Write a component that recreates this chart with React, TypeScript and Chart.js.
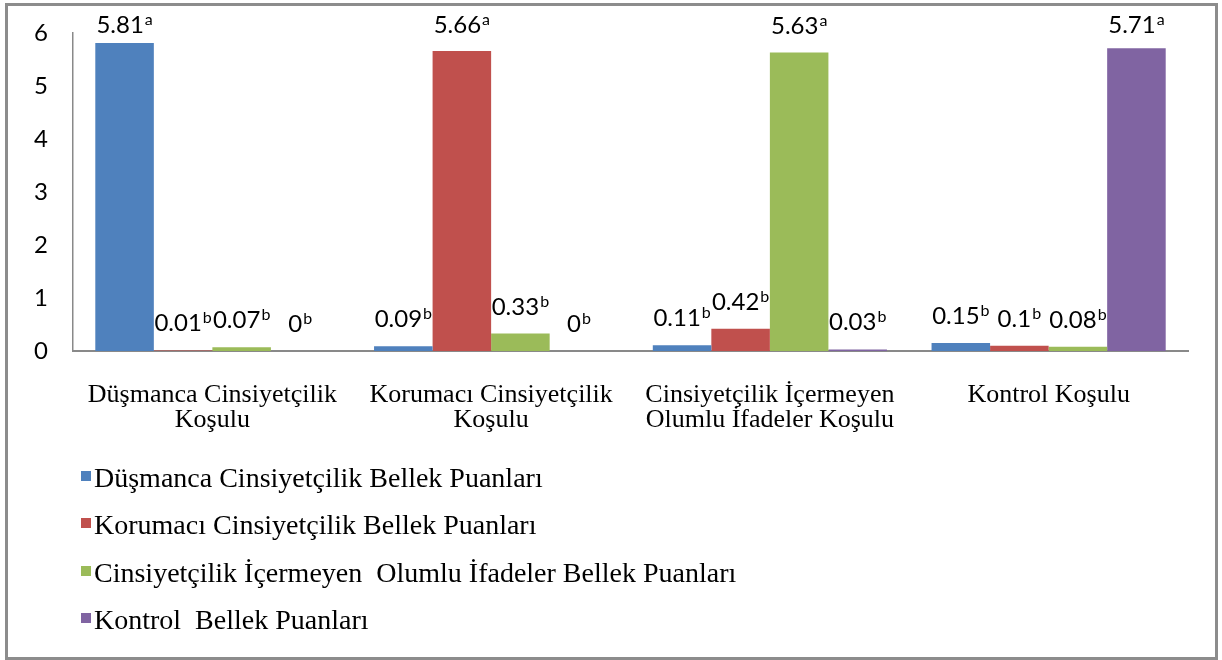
import React, { useEffect, useRef } from 'react';
import { Chart, registerables } from 'chart.js';

Chart.register(...registerables);

const categories = [
  ['Düşmanca Cinsiyetçilik', 'Koşulu'],
  ['Korumacı Cinsiyetçilik', 'Koşulu'],
  ['Cinsiyetçilik İçermeyen', 'Olumlu İfadeler Koşulu'],
  'Kontrol Koşulu',
];

const seriesNames = [
  'Düşmanca Cinsiyetçilik Bellek Puanları',
  'Korumacı Cinsiyetçilik Bellek Puanları',
  'Cinsiyetçilik İçermeyen  Olumlu İfadeler Bellek Puanları',
  'Kontrol  Bellek Puanları',
];

const hostileScores = [5.81, 0.09, 0.11, 0.15];
const benevolentScores = [0.01, 5.66, 0.42, 0.1];
const positiveScores = [0.07, 0.33, 5.63, 0.08];
const controlScores = [0, 0, 0.03, 5.71];

const hostileLetters = ['a', 'b', 'b', 'b'];
const benevolentLetters = ['b', 'a', 'b', 'b'];
const positiveLetters = ['b', 'b', 'a', 'b'];
const controlLetters = ['b', 'b', 'b', 'a'];

const yMin = 0;
const yMax = 6;
const yStep = 1;

const seriesColors = ['#4F81BD', '#C0504D', '#9BBB59', '#8064A2'];

const allSeries = [hostileScores, benevolentScores, positiveScores, controlScores];
const allLetters = [hostileLetters, benevolentLetters, positiveLetters, controlLetters];

const SANS = 'Lato, "Open Sans", sans-serif';
const SERIF = '"Liberation Serif", "Times New Roman", serif';

const labelPlugin = {
  id: 'supLabels',
  afterDatasetsDraw(chart: any) {
    const ctx = chart.ctx;
    const top = chart.chartArea.top;
    ctx.save();
    ctx.fillStyle = '#000';
    ctx.textBaseline = 'alphabetic';
    ctx.textAlign = 'left';
    chart.data.datasets.forEach((ds: any, i: number) => {
      const meta = chart.getDatasetMeta(i);
      meta.data.forEach((el: any, j: number) => {
        const main = String(ds.data[j]);
        const sup = allLetters[i][j];
        ctx.font = '24px ' + SANS;
        const w1 = ctx.measureText(main).width;
        ctx.font = '16px ' + SANS;
        const w2 = ctx.measureText(sup).width;
        const total = w1 + 1 + w2;
        const x0 = el.x - total / 2;
        const y = Math.max(el.y - 19, top);
        ctx.font = '24px ' + SANS;
        ctx.fillText(main, x0, y);
        ctx.font = '16px ' + SANS;
        ctx.fillText(sup, x0 + w1 + 1, y - 8);
      });
    });
    ctx.restore();
  },
};

export default function App() {
  const canvasRef = useRef<HTMLCanvasElement | null>(null);

  useEffect(() => {
    const canvas = canvasRef.current;
    if (!canvas) return;
    const chart = new Chart(canvas, {
      type: 'bar',
      data: {
        labels: categories as any,
        datasets: allSeries.map((s, i) => ({
          label: seriesNames[i],
          data: s,
          backgroundColor: seriesColors[i],
          borderWidth: 0,
          categoryPercentage: 0.84,
          barPercentage: 1,
        })),
      },
      options: {
        responsive: false,
        animation: false,
        layout: { padding: { top: 33, right: 34, bottom: 0, left: 0 } },
        plugins: { legend: { display: false }, tooltip: { enabled: false } },
        scales: {
          x: {
            grid: { display: false },
            border: { color: '#898989', width: 2 },
            ticks: {
              color: '#000',
              font: { family: SERIF, size: 26, lineHeight: 0.96 },
              padding: 24,
              maxRotation: 0,
              autoSkip: false,
            },
            afterFit: (s: any) => {
              s.height = 309;
            },
          },
          y: {
            min: yMin,
            max: yMax,
            ticks: {
              stepSize: yStep,
              color: '#000',
              font: { family: SANS, size: 24, lineHeight: 0.1 },
              padding: 25,
            },
            grid: { display: false, drawTicks: false },
            border: { color: '#898989', width: 1.5 },
            afterFit: (s: any) => {
              s.width = 73;
            },
          },
        },
      } as any,
      plugins: [labelPlugin],
    });
    return () => chart.destroy();
  }, []);

  const legendTop = 464;
  const legendStep = 47.3;

  return (
    <div style={{ position: 'absolute', left: 0, top: 0, width: 1222, height: 660, background: '#fff' }}>
      <canvas
        ref={canvasRef}
        width={1222}
        height={660}
        style={{ position: 'absolute', left: 0, top: 0, width: 1222, height: 660 }}
      />
      <div
        style={{
          position: 'absolute',
          left: 5,
          top: 3,
          width: 1213,
          height: 657,
          boxSizing: 'border-box',
          border: '3px solid #8c8c8c',
          pointerEvents: 'none',
        }}
      />
      {seriesNames.map((name, i) => (
        <div
          key={i}
          style={{
            position: 'absolute',
            left: 81,
            top: legendTop + i * legendStep,
            height: 28,
            display: 'flex',
            alignItems: 'center',
            whiteSpace: 'pre',
            fontFamily: SERIF,
            fontSize: 28,
            lineHeight: '28px',
            color: '#000',
          }}
        >
          <span style={{ display: 'inline-block', width: 10, height: 10, background: seriesColors[i], marginRight: 3, marginTop: -4 }} />
          <span>{name}</span>
        </div>
      ))}
    </div>
  );
}
